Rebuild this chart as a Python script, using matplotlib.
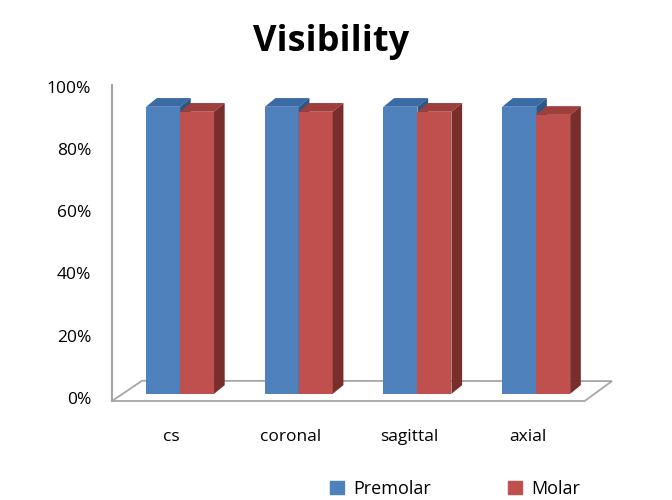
import numpy as np
import matplotlib.pyplot as plt
from matplotlib.patches import Polygon

categories = ["cs", "coronal", "sagittal", "axial"]
premolar = [92.3, 92.3, 92.3, 92.3]
molar = [90.7, 90.7, 90.7, 89.7]
yticks = [0, 20, 40, 60, 80, 100]
ytick_labels = ["0%", "20%", "40%", "60%", "80%", "100%"]

plt.rcParams['font.family'] = ['Open Sans', 'DejaVu Sans']

BLUE = "#4F81BD"
BLUE_TOP = "#3A6BA5"
BLUE_SIDE = "#2E5686"
RED = "#C0504D"
RED_TOP = "#9E3F3C"
RED_SIDE = "#7A2E2C"

# fake 3d: depth offset of every column, and the raised base of the columns
dx, dy = 0.09, 2.8
base = 1.3
width = 0.286
x0 = 0.573 + np.arange(len(categories)) * 0.9995

fig = plt.figure(figsize=(6.72, 5.0), dpi=100)
ax = fig.add_axes([112 / 672, 99 / 500, 500 / 672, 316 / 500])
ax.set_xlim(0, 4.21)
ax.set_ylim(-1, 100.6)
for s in ax.spines.values():
    s.set_visible(False)

# floor
floor = Polygon([(0, -1), (0.253, 5.5), (4.21, 5.4), (3.98, -1)], closed=True,
                facecolor="white", edgecolor="#A6A6A6", lw=1.3, zorder=1, clip_on=False)
ax.add_patch(floor)
ax.plot([0, 0], [-1, 100.6], color="#A6A6A6", lw=1.6, zorder=1, clip_on=False)


def column(ax, left, val, face, top, side, z):
    ax.bar(left, val, width, bottom=base, align="edge", color=face, zorder=z)
    h = base + val
    r = left + width
    ax.add_patch(Polygon([(left, h), (left + dx, h + dy), (r + dx, h + dy), (r, h)],
                         closed=True, facecolor=top, edgecolor="none", zorder=z))
    ax.add_patch(Polygon([(r, base), (r + dx, base + dy), (r + dx, h + dy), (r, h)],
                         closed=True, facecolor=side, edgecolor="none", zorder=z))


for i in range(len(categories)):
    column(ax, x0[i] - width, premolar[i], BLUE, BLUE_TOP, BLUE_SIDE, 2 + i)
    column(ax, x0[i], molar[i], RED, RED_TOP, RED_SIDE, 2.5 + i)

ax.set_xticks([])
ax.set_yticks(yticks)
ax.set_yticklabels(ytick_labels, fontsize=12.5)
ax.tick_params(axis="y", length=0, pad=15)

for i, c in enumerate(categories):
    ax.text(x0[i] - 0.07, -12.5, c, ha="center", va="center", fontsize=12.5)

fig.text(331 / 672, 1 - 42 / 500, "Visibility", ha="center", va="center",
         fontsize=26, fontweight="bold")

blue_h = plt.Rectangle((0, 0), 1, 1, color=BLUE)
red_h = plt.Rectangle((0, 0), 1, 1, color=RED)
fig.legend([blue_h, red_h], ["Premolar", "Molar"], loc="center",
           bbox_to_anchor=(455 / 672, 1 - 489 / 500), ncol=2, frameon=False,
           fontsize=13, handlelength=0.75, handleheight=0.75,
           handletextpad=0.5, columnspacing=4.3)

fig.savefig("out.png", dpi=100)
